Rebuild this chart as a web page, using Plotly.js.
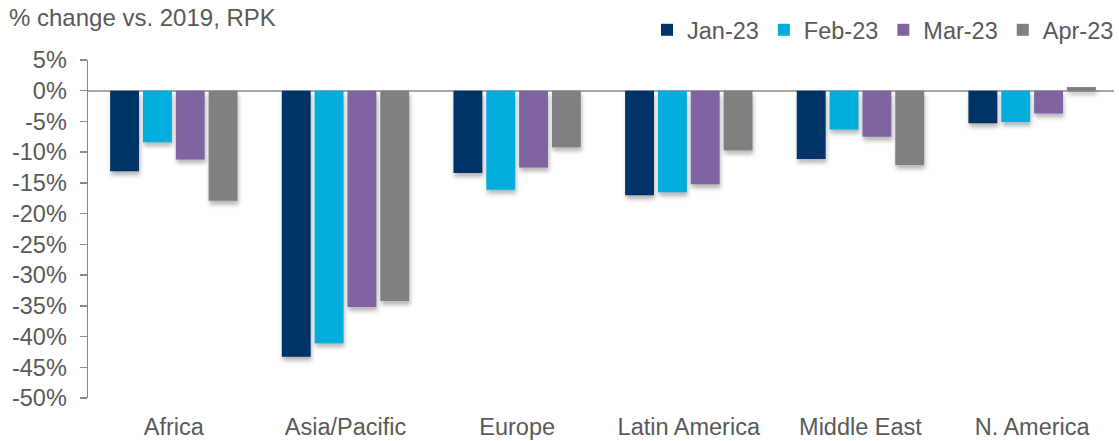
<!DOCTYPE html>
<html>
<head>
<meta charset="utf-8">
<script src="https://cdn.plot.ly/plotly-3.0.1.min.js"></script>
<style>
html,body{margin:0;padding:0;background:#fff;}
#chart{width:1119px;height:441px;}
#chart .barlayer .point path{filter:drop-shadow(1px 4px 2px rgba(0,0,0,0.28));}
</style>
</head>
<body>
<div id="chart"></div>
<script>
const categories = ["Africa", "Asia/Pacific", "Europe", "Latin America", "Middle East", "N. America"];
const jan23 = [-13.1, -43.3, -13.4, -17.0, -11.1, -5.3];
const feb23 = [-8.4, -41.1, -16.1, -16.5, -6.3, -5.1];
const mar23 = [-11.2, -35.2, -12.5, -15.2, -7.5, -3.7];
const apr23 = [-17.9, -34.2, -9.2, -9.7, -12.1, 0.6];
const seriesNames = ["Jan-23", "Feb-23", "Mar-23", "Apr-23"];
const seriesColors = ["#003366", "#00ADDC", "#8064A2", "#808080"];
const yTicks = [5, 0, -5, -10, -15, -20, -25, -30, -35, -40, -45, -50];

const allSeries = [jan23, feb23, mar23, apr23];
const traces = allSeries.map((vals, i) => ({
  type: "bar",
  name: seriesNames[i],
  x: categories,
  y: vals,
  marker: {color: seriesColors[i], line: {width: 0}},
  hoverinfo: "none"
}));

const fam = "Liberation Sans, Arial, sans-serif";
const font = {family: fam, size: 23.5, color: "#595959"};

const layout = {
  width: 1119,
  height: 441,
  margin: {l: 88, r: 0, t: 60, b: 43},
  paper_bgcolor: "#ffffff",
  plot_bgcolor: "#ffffff",
  font: font,
  showlegend: true,
  barmode: "group",
  bargap: 0.235,
  bargroupgap: 0.12,
  title: {
    text: "% change vs. 2019, RPK",
    font: {family: fam, size: 24, color: "#595959"},
    x: 9 / 1119, xref: "container", xanchor: "left",
    y: 1 - 18 / 441, yref: "container", yanchor: "middle"
  },
  legend: {
    orientation: "h",
    x: 1.005, xanchor: "right",
    y: 1.0887, yanchor: "middle",
    font: font,
    bgcolor: "rgba(0,0,0,0)",
    itemwidth: 30,
    traceorder: "normal"
  },
  xaxis: {
    type: "category",
    range: [-0.5, 5.477],
    showline: false,
    showgrid: false,
    zeroline: false,
    ticks: "",
    ticklabelstandoff: 12,
    tickfont: font,
    fixedrange: true
  },
  yaxis: {
    range: [-50, 5],
    tickvals: yTicks,
    ticktext: yTicks.map(v => v + "%"),
    showline: true,
    linecolor: "#898989",
    linewidth: 1.5,
    ticks: "outside",
    ticklen: 7,
    tickcolor: "#898989",
    tickwidth: 1.5,
    ticklabelstandoff: 8,
    showgrid: false,
    zeroline: true,
    zerolinecolor: "#A6A6A6",
    zerolinewidth: 2,
    tickfont: font,
    fixedrange: true
  }
};

Plotly.newPlot("chart", traces, layout, {displayModeBar: false, staticPlot: true});
</script>
</body>
</html>
